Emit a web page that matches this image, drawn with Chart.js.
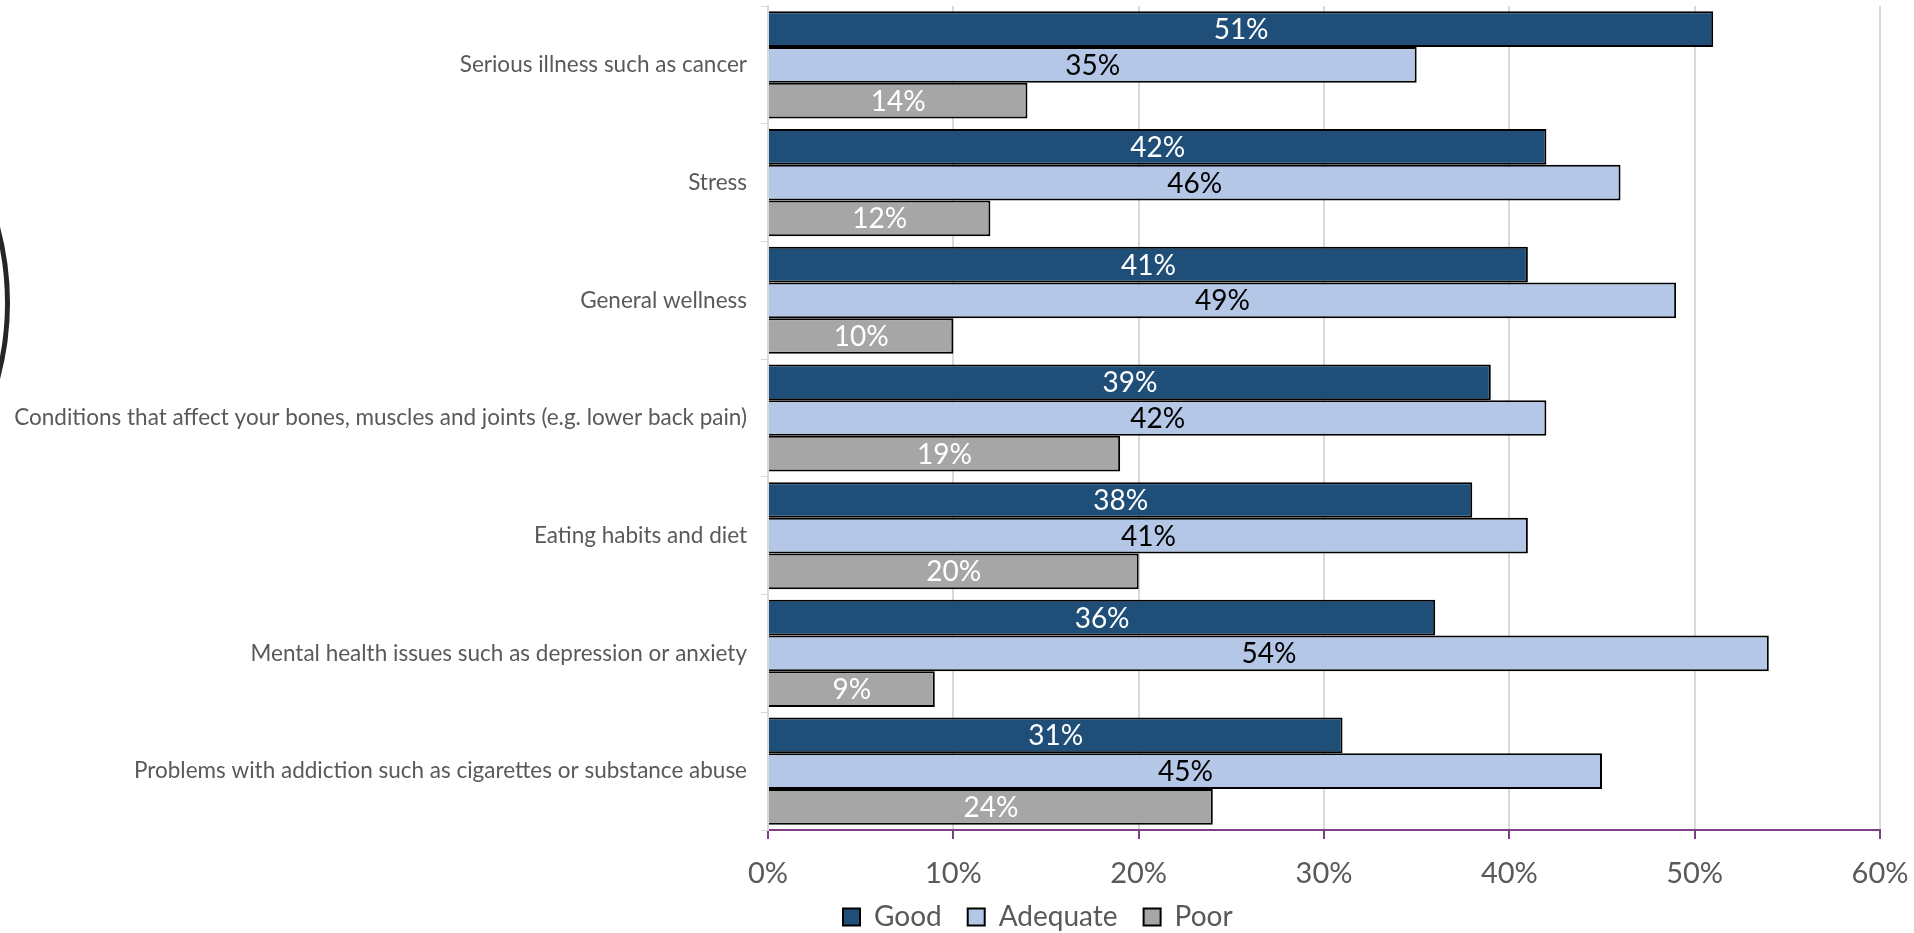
<!DOCTYPE html>
<html>
<head>
<meta charset="utf-8">
<title>Health topics rating</title>
<script src="https://cdn.jsdelivr.net/npm/chart.js@4.4.1/dist/chart.umd.min.js"></script>
<style>
  html, body { margin: 0; padding: 0; background: #fff; overflow: hidden; }
  #wrap { position: relative; width: 1914px; height: 933px; }
  #arc {
    position: absolute; left: -578px; top: 9px; width: 578px; height: 578px;
    border: 5px solid #262626; border-radius: 50%;
  }
</style>
</head>
<body>
<div id="wrap">
  <div id="arc"></div>
  <canvas id="chart" width="1914" height="933"></canvas>
</div>
<script>
const categories = [
  'Serious illness such as cancer',
  'Stress',
  'General wellness',
  'Conditions that affect your bones, muscles and joints (e.g. lower back pain)',
  'Eating habits and diet',
  'Mental health issues such as depression or anxiety',
  'Problems with addiction such as cigarettes or substance abuse'
];
const good = [51, 42, 41, 39, 38, 36, 31];
const adequate = [35, 46, 49, 42, 41, 54, 45];
const poor = [14, 12, 10, 19, 20, 9, 24];
const xTicks = [0, 10, 20, 30, 40, 50, 60];

const FONT = 'Lato, "Open Sans", sans-serif';
const GREY_TEXT = '#595959';
const LEGEND_PAD = 26;

// etiquetas de valor centradas dentro de cada barra
const barLabels = {
  id: 'barLabels',
  afterDatasetsDraw(chart) {
    const ctx = chart.ctx;
    ctx.save();
    ctx.font = '28px ' + FONT;
    ctx.textAlign = 'center';
    ctx.textBaseline = 'middle';
    chart.data.datasets.forEach((ds, i) => {
      const meta = chart.getDatasetMeta(i);
      meta.data.forEach((bar, j) => {
        const cx = (bar.x + bar.base) / 2;
        ctx.fillStyle = ds.labelColor;
        ctx.fillText(ds.data[j] + '%', cx, bar.y + 1);
      });
    });
    ctx.restore();
  }
};

// mueve la leyenda a su sitio (bajo el gráfico, algo a la izquierda del centro)
const legendPlace = {
  id: 'legendPlace',
  afterLayout(chart) {
    const lg = chart.legend;
    if (!lg) return;
    lg.left = 843 - LEGEND_PAD;
    lg.top = 903 - LEGEND_PAD;
  }
};

const ctx = document.getElementById('chart').getContext('2d');
new Chart(ctx, {
  type: 'bar',
  data: {
    labels: categories,
    datasets: [
      { label: 'Good', data: good, backgroundColor: '#1F4E79', labelColor: '#ffffff' },
      { label: 'Adequate', data: adequate, backgroundColor: '#B4C7E7', labelColor: '#000000' },
      { label: 'Poor', data: poor, backgroundColor: '#A6A6A6', labelColor: '#ffffff' }
    ].map((d) => Object.assign(d, {
      borderColor: '#000000',
      borderWidth: 2,
      borderSkipped: 'start',
      categoryPercentage: 0.91,
      barPercentage: 1
    }))
  },
  options: {
    indexAxis: 'y',
    responsive: false,
    animation: false,
    devicePixelRatio: 1,
    layout: { padding: { top: 6, right: 34, left: 0, bottom: 0 } },
    plugins: {
      tooltip: { enabled: false },
      legend: {
        position: 'bottom',
        align: 'start',
        maxHeight: 50,
        labels: {
          color: GREY_TEXT,
          font: { family: FONT, size: 28 },
          boxWidth: 17,
          boxHeight: 17,
          padding: LEGEND_PAD,
          generateLabels(chart) {
            return chart.data.datasets.map((ds, i) => ({
              text: ds.label,
              fillStyle: ds.backgroundColor,
              strokeStyle: '#000000',
              lineWidth: 2,
              fontColor: GREY_TEXT,
              datasetIndex: i
            }));
          }
        }
      }
    },
    scales: {
      x: {
        min: 0,
        max: 60,
        afterBuildTicks(scale) {
          scale.ticks = xTicks.map((v) => ({ value: v }));
        },
        afterFit(scale) {
          scale.height = 53;
          scale.paddingLeft = 0;
          scale.paddingRight = 0;
        },
        border: { color: '#7F3F87', width: 2 },
        grid: { color: '#D9D9D9', lineWidth: 2, tickColor: '#7F3F87', tickLength: 9 },
        ticks: {
          color: GREY_TEXT,
          font: { family: FONT, size: 29 },
          padding: 17,
          maxRotation: 0,
          callback: (v) => v + '%'
        }
      },
      y: {
        afterFit(scale) {
          scale.width = 768;
          scale.paddingTop = 0;
          scale.paddingBottom = 0;
        },
        border: { color: '#D9D9D9', width: 2 },
        grid: { drawOnChartArea: false, color: '#D9D9D9', tickLength: 7, offset: true },
        ticks: {
          color: GREY_TEXT,
          font: { family: FONT, size: 22.5 },
          padding: 14
        }
      }
    }
  },
  plugins: [barLabels, legendPlace]
});
</script>
</body>
</html>
